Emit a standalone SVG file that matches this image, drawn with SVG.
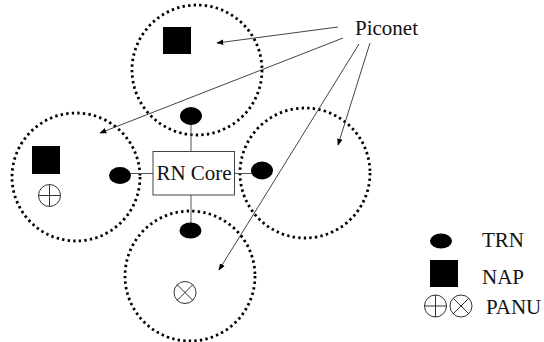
<svg xmlns="http://www.w3.org/2000/svg" width="544" height="342" viewBox="0 0 544 342">
  <style>
    .piconet { fill: none; stroke: #000; stroke-width: 2.8; stroke-dasharray: 2.4 3.2; }
    .trn { fill: #000; }
    .nap { fill: #000; }
    .panu { fill: #fff; stroke: #333; stroke-width: 1; }
    .link { stroke: #555; stroke-width: 1; fill: none; }
    .pointer { stroke: #444; stroke-width: 1; fill: none; marker-end: url(#head); }
    .label { font-family: "Liberation Serif", "Times New Roman", serif; font-size: 21px; fill: #111; }
  </style>
  <defs>
    <marker id="head" viewBox="0 0 10 10" refX="9" refY="5" markerWidth="7" markerHeight="7" markerUnits="userSpaceOnUse" orient="auto">
      <path d="M0,1 L10,5 L0,9 Z" fill="#000"/>
    </marker>
    <g id="plus">
      <circle r="11" class="panu"/>
      <path d="M-11,0 H11 M0,-11 V11" stroke="#333" stroke-width="1"/>
    </g>
    <g id="cross">
      <circle r="11" class="panu"/>
      <path d="M-7.8,-7.8 L7.8,7.8 M-7.8,7.8 L7.8,-7.8" stroke="#333" stroke-width="1"/>
    </g>
  </defs>
  <rect width="544" height="342" fill="#fff"/>

  <!-- piconet boundaries -->
  <g id="piconet-top">
    <circle class="piconet" cx="197" cy="70" r="65"/>
    <rect class="nap" x="163" y="27" width="28" height="27"/>
  </g>
  <g id="piconet-left">
    <circle class="piconet" cx="76" cy="177" r="64"/>
    <rect class="nap" x="32" y="146" width="28" height="28"/>
    <use href="#plus" x="49.5" y="195.5"/>
  </g>
  <g id="piconet-right">
    <circle class="piconet" cx="305" cy="173" r="65"/>
  </g>
  <g id="piconet-bottom">
    <circle class="piconet" cx="190" cy="276" r="65"/>
    <use href="#cross" x="185" y="292.5"/>
  </g>

  <!-- links from the core to each TRN, and label pointers -->
  <g id="connectors">
    <path class="link" d="M191,152 V124"/>
    <path class="link" d="M153,173.5 H130"/>
    <path class="link" d="M234,173.5 H252"/>
    <path class="link" d="M191,195 V223"/>
    <path class="pointer" d="M338,27 L217,43"/>
    <path class="pointer" d="M343,38 L100,133"/>
    <path class="pointer" d="M359,44 L219,270"/>
    <path class="pointer" d="M370,43 L338,145"/>
  </g>

  <g id="rn-core">
    <rect x="153" y="151.5" width="81.5" height="43.5" fill="#fff" stroke="#444" stroke-width="1"/>
    <text class="label" x="194" y="180" text-anchor="middle">RN Core</text>
  </g>
  <g id="piconet-label">
    <text class="label" x="355" y="35">Piconet</text>
  </g>
  <!-- legend -->
  <g id="legend">
    <ellipse class="trn" cx="441" cy="241" rx="11" ry="7.5"/>
    <text class="label" x="482" y="247">TRN</text>
    <rect class="nap" x="430" y="260" width="28" height="27"/>
    <text class="label" x="482" y="284">NAP</text>
    <use href="#plus" x="435.5" y="306"/>
    <use href="#cross" x="461" y="306"/>
    <text class="label" x="486" y="314">PANU</text>
  </g>

  <g id="trn-top"><ellipse class="trn" cx="191" cy="116" rx="11" ry="9"/></g>
  <g id="trn-left"><ellipse class="trn" cx="120" cy="175.5" rx="11" ry="8.5"/></g>
  <g id="trn-right"><ellipse class="trn" cx="262" cy="170.5" rx="11" ry="9"/></g>
  <g id="trn-bottom"><ellipse class="trn" cx="190.5" cy="230.5" rx="11" ry="8"/></g>
</svg>
